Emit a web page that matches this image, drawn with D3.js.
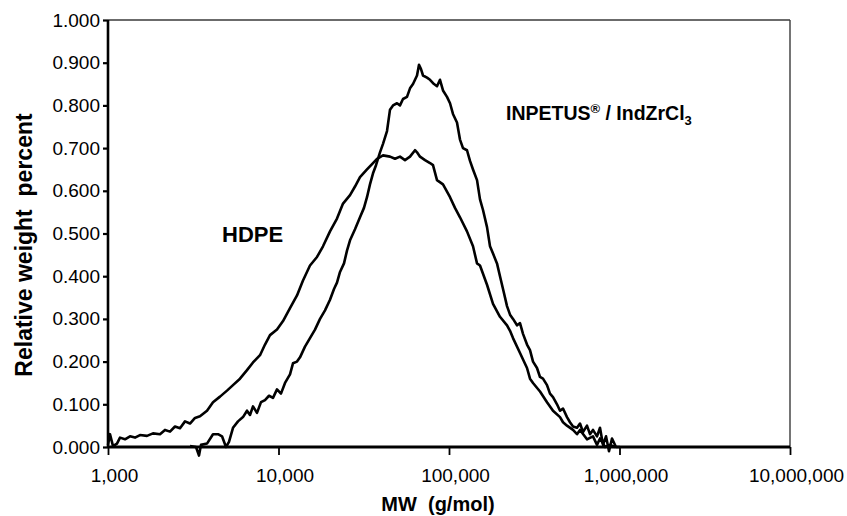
<!DOCTYPE html>
<html>
<head>
<meta charset="utf-8">
<script src="https://cdn.jsdelivr.net/npm/d3@7/dist/d3.min.js"></script>
<style>
  html, body { margin: 0; padding: 0; background: #fff; }
  svg { display: block; font-family: "Liberation Sans", Arial, sans-serif; }
</style>
</head>
<body>
<svg id="chart" width="847" height="516"></svg>
<script>
// ---- Data (MW in g/mol, relative weight percent) ----
const hdpeMW = [1000,1027,1070,1129,1176,1258,1346,1440,1540,1693,1836,2018,2159,2310,2471,2644,2829,3027,3238,3464,3808,4129,4539,4988,5409,5945,6535,7086,7790,8334,8916,9800,10630,11680,12840,13920,15300,16820,18240,20050,22030,23900,26270,28100,30060,33040,35840,37830,41020,45080,48230,51590,55200,59060,63190,64920,67600,72330,77370,80570,85040,92210,101400,108400,116000,127500,138300,146000,152000,167100,181200,199100,218900,228000,237400,260900,286800,298600,311000,341800,375700,407400,447800,466300,492100,533700,563300,586600,644600,699000,738000,768500,822200,879600,941000];
const hdpeVal = [0.005,0.030,0.002,0.008,0.022,0.018,0.025,0.022,0.028,0.026,0.032,0.030,0.040,0.036,0.048,0.044,0.060,0.055,0.068,0.072,0.085,0.105,0.118,0.132,0.145,0.160,0.180,0.198,0.215,0.240,0.262,0.275,0.295,0.325,0.355,0.390,0.425,0.445,0.470,0.505,0.535,0.570,0.590,0.610,0.632,0.650,0.665,0.675,0.683,0.680,0.675,0.680,0.672,0.680,0.695,0.690,0.680,0.672,0.665,0.660,0.625,0.615,0.585,0.560,0.538,0.505,0.470,0.430,0.425,0.380,0.335,0.305,0.285,0.272,0.255,0.220,0.185,0.160,0.150,0.130,0.105,0.085,0.070,0.058,0.050,0.040,0.030,0.040,0.018,0.025,0.005,0.020,0.000,0.005,0.000];

const inpMW = [3027,3282,3418,3511,3808,4129,4418,4663,4921,5124,5409,5787,6191,6535,6805,7086,7479,7896,8334,8796,9284,9800,10340,10920,11680,12160,12840,13370,14300,15300,16370,17520,18740,20050,21160,22030,22950,24220,25220,26270,28100,30060,31720,33040,34400,35840,37320,39380,41020,43290,45080,46950,49550,51590,53730,56710,59060,61510,64920,66690,68520,70400,74300,77370,81660,85040,88550,92210,97340,101400,105500,111400,116000,120800,127500,132800,138300,146000,152000,158300,167100,174000,181200,191200,199100,207400,218900,228000,237400,250600,260900,271700,286800,298600,311000,328200,341800,355900,375700,391200,407400,430000,447800,466300,492100,512400,533700,563300,586600,610800,644600,671300,699000,738000,768500,800300,833400,867800,903600,953800,1006800];
const inpVal = [0.002,0.000,-0.020,0.005,0.008,0.030,0.030,0.025,0.000,0.012,0.045,0.060,0.070,0.085,0.075,0.095,0.080,0.105,0.110,0.120,0.115,0.135,0.125,0.150,0.170,0.196,0.200,0.210,0.235,0.255,0.275,0.300,0.320,0.345,0.370,0.385,0.410,0.430,0.460,0.484,0.510,0.538,0.560,0.585,0.615,0.641,0.660,0.690,0.710,0.740,0.790,0.800,0.805,0.800,0.815,0.820,0.840,0.850,0.870,0.895,0.885,0.870,0.865,0.860,0.850,0.845,0.860,0.835,0.820,0.805,0.780,0.760,0.720,0.700,0.695,0.670,0.650,0.625,0.580,0.555,0.515,0.470,0.453,0.430,0.400,0.370,0.330,0.310,0.300,0.285,0.290,0.265,0.240,0.227,0.200,0.185,0.164,0.160,0.145,0.125,0.117,0.100,0.085,0.090,0.070,0.058,0.048,0.045,0.055,0.035,0.050,0.030,0.040,0.025,0.045,0.005,0.025,-0.010,0.020,0.000,0.000];

const xTicks = [1000, 10000, 100000, 1000000, 10000000];
const xTickLabels = ["1,000", "10,000", "100,000", "1,000,000", "10,000,000"];
const yTicks = [0, 0.1, 0.2, 0.3, 0.4, 0.5, 0.6, 0.7, 0.8, 0.9, 1.0];
const yTickLabels = ["0.000","0.100","0.200","0.300","0.400","0.500","0.600","0.700","0.800","0.900","1.000"];

// ---- Layout ----
const svg = d3.select("#chart");
const L = 108, R = 790, T = 20, B = 447;
const x = d3.scaleLog().domain([1000, 10000000]).range([L, R]);
const y = d3.scaleLinear().domain([0, 1]).range([B, T]);

svg.append("rect").attr("width", 847).attr("height", 516).attr("fill", "#fff");

// top & right frame
svg.append("line").attr("x1", L).attr("x2", R).attr("y1", T).attr("y2", T)
  .attr("stroke", "#3a3a3a").attr("stroke-width", 1.6);
svg.append("line").attr("x1", R).attr("x2", R).attr("y1", T).attr("y2", B)
  .attr("stroke", "#3a3a3a").attr("stroke-width", 1.4);

// curves
const line = d3.line().x(d => x(d[0])).y(d => y(d[1]));
const series = [
  d3.zip(hdpeMW, hdpeVal),
  d3.zip(inpMW, inpVal)
];
svg.selectAll("path.curve").data(series).enter().append("path")
  .attr("class", "curve")
  .attr("d", line)
  .attr("fill", "none")
  .attr("stroke", "#000")
  .attr("stroke-width", 2.6)
  .attr("stroke-linejoin", "round");

// y axis
const yAxis = d3.axisLeft(y).tickValues(yTicks)
  .tickFormat((d, i) => yTickLabels[i]).tickSize(5).tickPadding(3);
const gy = svg.append("g").attr("transform", `translate(${L},0)`).call(yAxis);
gy.select(".domain").attr("stroke", "#000").attr("stroke-width", 2.6)
  .attr("d", `M0,${T}V${B}`);
gy.selectAll(".tick line").attr("stroke", "#000").attr("stroke-width", 2.2);
gy.selectAll(".tick text").attr("font-size", 19).attr("fill", "#000")
  .attr("font-family", "Liberation Sans, Arial, sans-serif");

// x axis
const xAxis = d3.axisBottom(x).tickValues(xTicks)
  .tickFormat((d, i) => xTickLabels[i]).tickSize(8).tickPadding(14);
const gx = svg.append("g").attr("transform", `translate(0,${B})`).call(xAxis);
gx.select(".domain").attr("stroke", "#000").attr("stroke-width", 3)
  .attr("d", `M${L},0H${R}`);
gx.selectAll(".tick line").attr("stroke", "#000").attr("stroke-width", 1.8);
gx.selectAll(".tick text").attr("font-size", 19).attr("fill", "#000")
  .attr("dx", 6)
  .attr("font-family", "Liberation Sans, Arial, sans-serif");

// axis titles
svg.append("text").attr("x", 438).attr("y", 511).attr("text-anchor", "middle")
  .attr("font-size", 20).attr("font-weight", "bold").attr("xml:space", "preserve")
  .text("MW  (g/mol)");
svg.append("text").attr("transform", "translate(32,245) rotate(-90)")
  .attr("text-anchor", "middle").attr("font-size", 23).attr("font-weight", "bold")
  .attr("xml:space", "preserve")
  .text("Relative weight  percent");

// annotations
svg.append("text").attr("x", 222).attr("y", 242).attr("font-size", 22)
  .attr("font-weight", "bold").text("HDPE");
const t2 = svg.append("text").attr("x", 506).attr("y", 120).attr("font-size", 19.5)
  .attr("font-weight", "bold");
t2.append("tspan").text("INPETUS");
t2.append("tspan").attr("font-size", 13).attr("dy", -7).text("®");
t2.append("tspan").attr("dy", 7).text(" / IndZrCl");
t2.append("tspan").attr("font-size", 13).attr("dy", 5).text("3");
</script>
</body>
</html>
